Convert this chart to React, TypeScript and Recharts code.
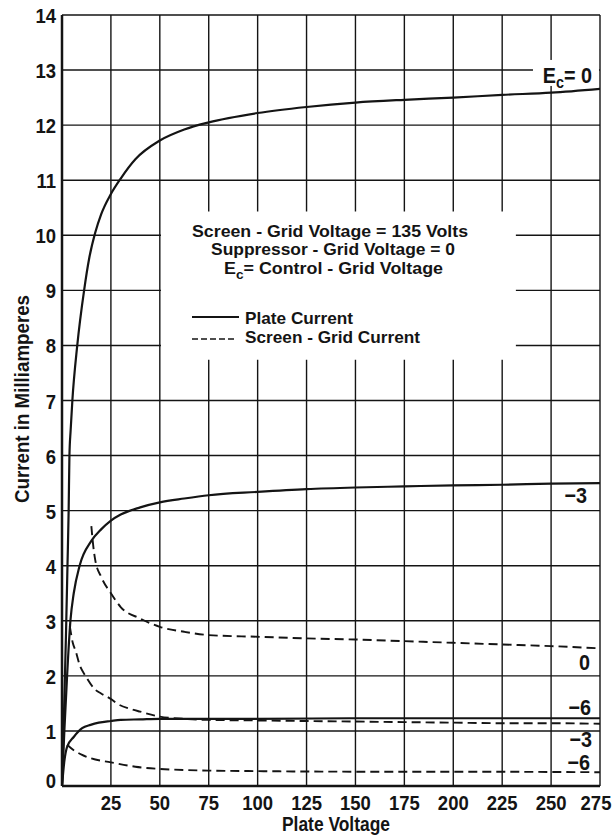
import React from 'react';
import { LineChart, Line, XAxis, YAxis, CartesianGrid, ReferenceArea, ReferenceDot } from 'recharts';

// ---- axis ticks ----
const xTicks = [25, 50, 75, 100, 125, 150, 175, 200, 225, 250, 275];
const yTicks = [0, 1, 2, 3, 4, 5, 6, 7, 8, 9, 10, 11, 12, 13, 14];

// ---- plate current, Ec = 0 ----
const plateV0 = [0, 1, 2, 2.8, 3.4, 3.8, 4.4, 5.3, 7.8, 11.3, 14, 17, 20, 25, 30, 37.5, 50, 62.5, 75, 100, 125, 150, 175, 200, 225, 250, 275];
const plateI0 = [0, 1.3, 2.7, 4.0, 5.0, 6.0, 6.45, 7.0, 8.0, 9.0, 9.6, 10.05, 10.38, 10.75, 11.03, 11.38, 11.72, 11.92, 12.05, 12.22, 12.33, 12.41, 12.46, 12.5, 12.55, 12.59, 12.66];

// ---- plate current, Ec = -3 ----
const plateV3 = [0, 1.2, 2.6, 4.3, 6, 9, 15, 20, 25, 30, 40, 50, 62.5, 75, 100, 125, 150, 175, 200, 225, 250, 275];
const plateI3 = [0, 1.0, 2.0, 3.0, 3.5, 4.0, 4.45, 4.66, 4.82, 4.93, 5.06, 5.15, 5.22, 5.28, 5.34, 5.39, 5.42, 5.44, 5.46, 5.47, 5.49, 5.5];

// ---- plate current, Ec = -6 ----
const plateV6 = [0, 1.2, 2.6, 6, 10.3, 14.6, 18.8, 25, 30, 40, 50, 75, 100, 150, 200, 275];
const plateI6 = [0, 0.45, 0.71, 0.89, 1.05, 1.11, 1.15, 1.18, 1.2, 1.21, 1.22, 1.22, 1.22, 1.23, 1.23, 1.23];

// ---- screen-grid current, Ec = 0 ----
const screenV0 = [15, 16, 17, 20, 25, 30, 40, 50, 62.5, 75, 100, 125, 150, 175, 200, 225, 250, 275];
const screenI0 = [4.72, 4.35, 4.1, 3.8, 3.5, 3.25, 3.04, 2.89, 2.8, 2.74, 2.71, 2.68, 2.66, 2.63, 2.6, 2.57, 2.54, 2.5];

// ---- screen-grid current, Ec = -3 ----
const screenV3 = [4, 5.5, 7, 9, 12, 17, 20, 25, 28, 35, 40, 50, 62.5, 75, 100, 125, 150, 175, 200, 225, 250, 275];
const screenI3 = [2.9, 2.6, 2.45, 2.2, 2.0, 1.75, 1.68, 1.58, 1.5, 1.4, 1.35, 1.26, 1.22, 1.2, 1.19, 1.18, 1.17, 1.16, 1.15, 1.14, 1.14, 1.13];

// ---- screen-grid current, Ec = -6 ----
const screenV6 = [2.6, 6, 10, 15, 25, 37.5, 50, 62.5, 75, 100, 150, 200, 275];
const screenI6 = [0.75, 0.65, 0.57, 0.5, 0.43, 0.35, 0.31, 0.29, 0.28, 0.27, 0.26, 0.26, 0.25];

// ---- texts ----
const curveLabels = ['0', '\u22123', '0', '\u22126', '\u22123', '\u22126'];
const noteLines = ['Screen - Grid  Voltage = 135 Volts', 'Suppressor - Grid  Voltage = 0', '= Control - Grid  Voltage'];
const legendNames = ['Plate Current', 'Screen - Grid  Current'];
const xTitle = 'Plate Voltage';
const yTitle = 'Current in Milliamperes';

const zip = (v: number[], i: number[]) => v.map((x, k) => ({ v: x, i: i[k] }));

const FONT = "'Liberation Sans', Arial, sans-serif";
const INK = '#141414';
const SX = 0.88;

const center = (props: any) => {
  const vb = props.viewBox || {};
  return { cx: vb.x + (vb.width || 0) / 2, cy: vb.y + (vb.height || 0) / 2 };
};

const curveLabel = (text: string, withE = false) => (props: any) => {
  const { cx, cy } = center(props);
  return (
    <g>
      {withE && <rect x={cx - 59} y={cy - 23} width={66} height={26} fill="#fff" />}
      <text transform={`translate(${cx},${cy}) scale(0.9,1)`} textAnchor="end" fontFamily={FONT} fontWeight={700} fontSize={22} fill={INK}>
        {withE ? (
          <>
            <tspan>E</tspan>
            <tspan dy={5} fontSize={16}>c</tspan>
            <tspan dy={-5}>{'= ' + text}</tspan>
          </>
        ) : (
          text
        )}
      </text>
    </g>
  );
};

const noteContent = (props: any) => {
  const { cx, cy } = center(props);
  const common = { fontFamily: FONT, fontSize: 17, fontWeight: 700, fill: INK, lengthAdjust: 'spacingAndGlyphs' as const };
  return (
    <g>
      <text x={cx} y={cy} textAnchor="middle" textLength={276} {...common}>{noteLines[0]}</text>
      <text x={cx + 3} y={cy + 18.5} textAnchor="middle" textLength={244} {...common}>{noteLines[1]}</text>
      <text x={cx + 3.5} y={cy + 37} textAnchor="middle" textLength={219} {...common}>
        <tspan>E</tspan>
        <tspan dy={5} fontSize={13}>c</tspan>
        <tspan dy={-5}>{noteLines[2]}</tspan>
      </text>
    </g>
  );
};

const legendContent = (props: any) => {
  const { cx, cy } = center(props);
  const common = { fontFamily: FONT, fontSize: 17, fontWeight: 700, fill: INK, lengthAdjust: 'spacingAndGlyphs' as const };
  return (
    <g>
      <line x1={cx} y1={cy} x2={cx + 47} y2={cy} stroke={INK} strokeWidth={2} />
      <text x={cx + 53} y={cy + 7} textLength={108} {...common}>{legendNames[0]}</text>
      <line x1={cx} y1={cy + 22} x2={cx + 44} y2={cy + 22} stroke={INK} strokeWidth={1.6} strokeDasharray="6 3" />
      <text x={cx + 53} y={cy + 26} textLength={175} {...common}>{legendNames[1]}</text>
    </g>
  );
};

const yTitleContent = () => (
  <text
    transform="translate(29,399) rotate(-90)"
    textAnchor="middle"
    textLength={208}
    lengthAdjust="spacingAndGlyphs"
    fontFamily={FONT}
    fontWeight={700}
    fontSize={20}
    fill={INK}
  >
    {yTitle}
  </text>
);

const xTitleContent = () => (
  <text x={336} y={831} textAnchor="middle" textLength={108} lengthAdjust="spacingAndGlyphs" fontFamily={FONT} fontWeight={700} fontSize={20} fill={INK}>
    {xTitle}
  </text>
);

const XTick = (props: any) => {
  const { x, y, payload } = props;
  const dx = payload.value === 275 ? -4 : 0;
  return (
    <text transform={`translate(${x + dx},${y + 24}) scale(${SX},1)`} textAnchor="middle" fontFamily={FONT} fontWeight={700} fontSize={21} fill={INK}>
      {payload.value}
    </text>
  );
};

const YTick = (props: any) => {
  const { x, y, payload } = props;
  const dy = payload.value === 0 ? 2 : 8;
  return (
    <text transform={`translate(${x},${y + dy}) scale(${SX},1)`} textAnchor="end" fontFamily={FONT} fontWeight={700} fontSize={21} fill={INK}>
      {payload.value}
    </text>
  );
};

export default function App() {
  const solid = { type: 'monotone' as const, dataKey: 'i', stroke: INK, strokeWidth: 2.2, dot: false, isAnimationActive: false };
  const dashed = { ...solid, strokeWidth: 1.9, strokeDasharray: '9 5' };
  return (
    <div style={{ width: 615, height: 837, background: '#fff' }}>
      <style>{'body{margin:0;background:#fff}'}</style>
      <LineChart width={615} height={837} margin={{ top: 15, right: 15, bottom: 0, left: 0 }}>
        <CartesianGrid stroke={INK} strokeWidth={1.4} />
        <ReferenceArea x1={50.6} x2={232} y1={7.74} y2={10.43} fill="#fff" fillOpacity={1} stroke="none" />
        <XAxis
          type="number"
          dataKey="v"
          domain={[0, 275]}
          ticks={xTicks}
          allowDataOverflow
          height={51}
          tickSize={0}
          tickMargin={0}
          axisLine={{ stroke: INK, strokeWidth: 2.5 }}
          tick={<XTick />}
          label={{ content: xTitleContent }}
        />
        <YAxis
          type="number"
          domain={[0, 14]}
          ticks={yTicks}
          allowDataOverflow
          width={62}
          tickSize={0}
          tickMargin={6}
          axisLine={{ stroke: INK, strokeWidth: 2.5 }}
          tick={<YTick />}
          label={{ content: yTitleContent }}
        />
        <Line {...solid} data={zip(plateV0, plateI0)} />
        <Line {...solid} data={zip(plateV3, plateI3)} />
        <Line {...solid} data={zip(plateV6, plateI6)} />
        <Line {...dashed} data={zip(screenV0, screenI0)} />
        <Line {...dashed} data={zip(screenV3, screenI3)} />
        <Line {...dashed} data={zip(screenV6, screenI6)} />

        <ReferenceDot x={270.9} y={12.766} r={1} fill="none" stroke="none" label={{ content: curveLabel(curveLabels[0], true) }} />
        <ReferenceDot x={268.4} y={5.139} r={1} fill="none" stroke="none" label={{ content: curveLabel(curveLabels[1]) }} />
        <ReferenceDot x={269.9} y={2.106} r={1} fill="none" stroke="none" label={{ content: curveLabel(curveLabels[2]) }} />
        <ReferenceDot x={270.4} y={1.289} r={1} fill="none" stroke="none" label={{ content: curveLabel(curveLabels[3]) }} />
        <ReferenceDot x={270.9} y={0.708} r={1} fill="none" stroke="none" label={{ content: curveLabel(curveLabels[4]) }} />
        <ReferenceDot x={269.9} y={0.291} r={1} fill="none" stroke="none" label={{ content: curveLabel(curveLabels[5]) }} />

        <ReferenceDot x={137} y={9.969} r={1} fill="none" stroke="none" label={{ content: noteContent }} />
        <ReferenceDot x={66.45} y={8.516} r={1} fill="none" stroke="none" label={{ content: legendContent }} />
      </LineChart>
    </div>
  );
}
